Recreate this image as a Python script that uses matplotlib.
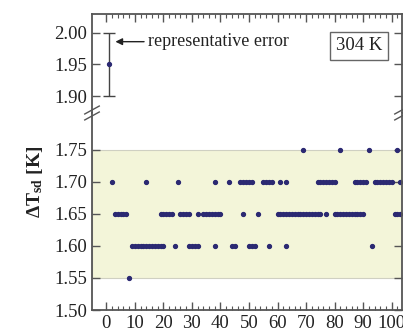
import numpy as np
import matplotlib
matplotlib.use('Agg')
from matplotlib import pyplot as plt

# x positions of the points at each dT level
x_175 = [69, 82, 92, 102]
x_170 = [2, 14, 25, 38, 43, 47, 48, 49, 50, 51, 55, 56, 57, 58, 61, 63,
         74, 75, 76, 77, 78, 79, 80, 87, 88, 89, 90, 91,
         94, 95, 96, 97, 98, 99, 100, 103]
x_165 = [3, 4, 5, 6, 7, 19, 20, 21, 22, 23, 26, 27, 28, 29, 32,
         34, 35, 36, 37, 38, 39, 40, 48, 53,
         60, 61, 62, 63, 64, 65, 66, 67, 68, 69, 70, 71, 72, 73, 74, 75, 77,
         80, 81, 82, 83, 84, 85, 86, 87, 88, 89, 90, 101, 102, 103]
x_160 = [9, 10, 11, 12, 13, 14, 15, 16, 17, 18, 19, 20, 24, 29, 30, 31, 32,
         38, 44, 45, 50, 51, 52, 57, 63, 93]
x_155 = [8]

levels = [1.75, 1.70, 1.65, 1.60, 1.55]
xs = [x_175, x_170, x_165, x_160, x_155]

err_x = 1
err_y = 1.95
err_size = 0.05
band = (1.55, 1.75)

plt.rcParams['font.family'] = ['Liberation Serif', 'DejaVu Serif']
plt.rcParams['mathtext.fontset'] = 'custom'
plt.rcParams['mathtext.rm'] = 'Liberation Serif:bold'
plt.rcParams['mathtext.bf'] = 'Liberation Serif:bold'
plt.rcParams['mathtext.it'] = 'Liberation Serif:italic:bold'

dot_c = '#2b2972'
spine_c = '#555555'
txt_c = '#222222'

fig = plt.figure(figsize=(4.03, 3.31), dpi=100)
left, width = 92 / 403, 310 / 403
ax_top = fig.add_axes([left, 1 - 113 / 331, width, 99 / 331])
ax = fig.add_axes([left, 1 - 310 / 331, width, 197 / 331])

for a in (ax_top, ax):
    a.set_xlim(-5, 103.6)
    for s in a.spines.values():
        s.set_color(spine_c)
        s.set_linewidth(1.3)
    a.tick_params(direction='in', length=6, width=1, colors=spine_c,
                  labelcolor=txt_c, labelsize=13.5, left=True, right=True)
    a.tick_params(which='minor', direction='in', length=3, width=0.8, colors=spine_c)
    a.set_xticks(np.arange(0, 101, 10))
    a.set_xticks(np.arange(0, 104, 2), minor=True)

ax_top.set_ylim(1.8734, 2.0297)
ax_top.set_yticks([1.90, 1.95, 2.00])
ax_top.set_yticklabels(['1.90', '1.95', '2.00'])
ax_top.spines['bottom'].set_visible(False)
ax_top.tick_params(which='both', bottom=False, top=True, labelbottom=False)

ax.set_ylim(1.50, 1.8078)
ax.set_yticks([1.50, 1.55, 1.60, 1.65, 1.70, 1.75])
ax.set_yticklabels(['1.50', '1.55', '1.60', '1.65', '1.70', '1.75'])
ax.spines['top'].set_visible(False)
ax.tick_params(which='both', top=False, bottom=True)

ax.axhspan(band[0], band[1], facecolor='#f3f5d9', edgecolor='#cfd0c2', lw=0.8, zorder=0)

for lv, xv in zip(levels, xs):
    ax.plot(xv, [lv] * len(xv), 'o', ms=2.8, color=dot_c, mec=dot_c, clip_on=False)

ax_top.errorbar([err_x], [err_y], yerr=[err_size], fmt='o', ms=2.8, color=dot_c,
                ecolor='#444444', elinewidth=1, capsize=4, capthick=1)
ax_top.annotate('representative error', xy=(3.2, 1.986), xytext=(14.7, 1.986),
                fontsize=13, color=txt_c, va='center', ha='left',
                arrowprops=dict(arrowstyle='-|>', color='#222222', lw=1,
                                mutation_scale=10, shrinkA=1, shrinkB=0))
ax_top.text(0.861, 0.677, '304 K', transform=ax_top.transAxes, fontsize=13.5,
            color=txt_c, ha='center', va='center',
            bbox=dict(boxstyle='square,pad=0.3', fc='white', ec='#666666', lw=1))

# break marks on the y axis
yb = 1 - 113 / 331
for xb in (92 / 403, 402 / 403):
    for dy in (-0.009, 0.009):
        fig.add_artist(plt.Line2D([xb - 0.018, xb + 0.018],
                                  [yb + dy - 0.012, yb + dy + 0.012],
                                  color=spine_c, lw=1))

fig.text(35 / 403, 1 - 182 / 331, r'$\Delta$T$_{\rm sd}$ [K]', rotation=90,
         fontsize=14, fontweight='bold', color=txt_c, ha='center', va='center')

fig.savefig('out.png', dpi=100)
